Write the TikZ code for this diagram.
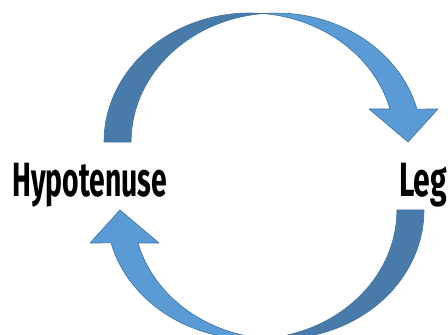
\documentclass[tikz,border=0pt]{standalone}
\usepackage{fontspec}
\setmainfont{Fira Sans}
\usepackage{xcolor}
\usepackage{tikz}
\usetikzlibrary{positioning}

\definecolor{arrowlight}{HTML}{5B9BD5}
\definecolor{arrowdark}{HTML}{487BAA}
\definecolor{arrowline}{HTML}{41719C}

% one half of the cycle, drawn from the left foot over the top to the head
\newcommand{\cyclearrow}{%
	\draw [backface] (104,193) arc[start angle=180, end angle=84.6, x radius=145.4, y radius=129]
		arc[start angle=95.3, end angle=180, x radius=145.4, y radius=129] -- cycle;
	\draw [frontface] (263,321.4) arc[start angle=95.3, end angle=14.8, x radius=145.4, y radius=129]
		-- (438,226) -- (408,193) -- (369,226) -- (390,226)
		arc[start angle=14.8, end angle=84.6, x radius=145.4, y radius=129] -- cycle;
}

\begin{document}
\begin{tikzpicture}[
				x=1pt, y=1pt,
				word/.style={inner sep=0pt, anchor=north west, font=\bfseries},
				backface/.style={fill=arrowdark, draw=arrowline, line width=0.6pt, line join=round},
				frontface/.style={fill=arrowlight, draw=arrowline, line width=0.6pt, line join=round}
				]
				\useasboundingbox (0,0) rectangle (448,335);
				\clip (0,0) rectangle (448,335);
				
				% Nodes
				\node (hyp) [word] at (12,172) {\resizebox*{155pt}{44pt}{Hypotenuse}};
				\node (leg) [word] at (399,172) {\resizebox*{48pt}{44pt}{Leg}};
				
				% Arrows
				\cyclearrow
				\begin{scope}[rotate around={180:(264,159)}]
					\cyclearrow
				\end{scope}
			\end{tikzpicture}
\end{document}
